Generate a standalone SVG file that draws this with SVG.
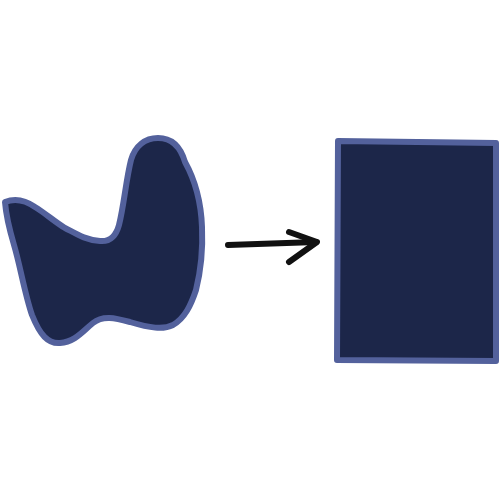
<svg xmlns="http://www.w3.org/2000/svg" width="500" height="500" viewBox="0 0 500 500">
<style>
.shape{fill:#1c2649;stroke:#53619c;stroke-width:6;stroke-linejoin:round}
.arrow{fill:none;stroke:#111;stroke-width:6;stroke-linecap:round;stroke-linejoin:round}
</style>
<rect width="500" height="500" fill="#fff"/>
<g id="blob">
<path class="shape" d="M5,202 C15,198 25,200 35,207 C45,213 55,222 65,228 C75,233 85,240 100,241 C110,242 116,236 119,225 C124,205 126,180 131,160 C135,146 145,138 158,138 C170,138 180,145 185,162 C195,180 201,200 202,227 C203,250 201,270 196,290 C191,305 185,318 173,325 C163,330 150,328 130,322 C115,318 103,315 93,323 C83,331 75,342 60,343 C48,344 40,335 32,315 C25,295 20,265 14,245 C9,228 6,215 5,202 Z"/>
</g>
<g id="rect">
<path class="shape" d="M338,141 L496,143 L496,361 L337,360 Z"/>
</g>
<g id="connectors">
<path class="arrow" d="M228,245 L316,242"/>
<path class="arrow" d="M289,232 L317,242 L289,262"/>
</g>
</svg>
